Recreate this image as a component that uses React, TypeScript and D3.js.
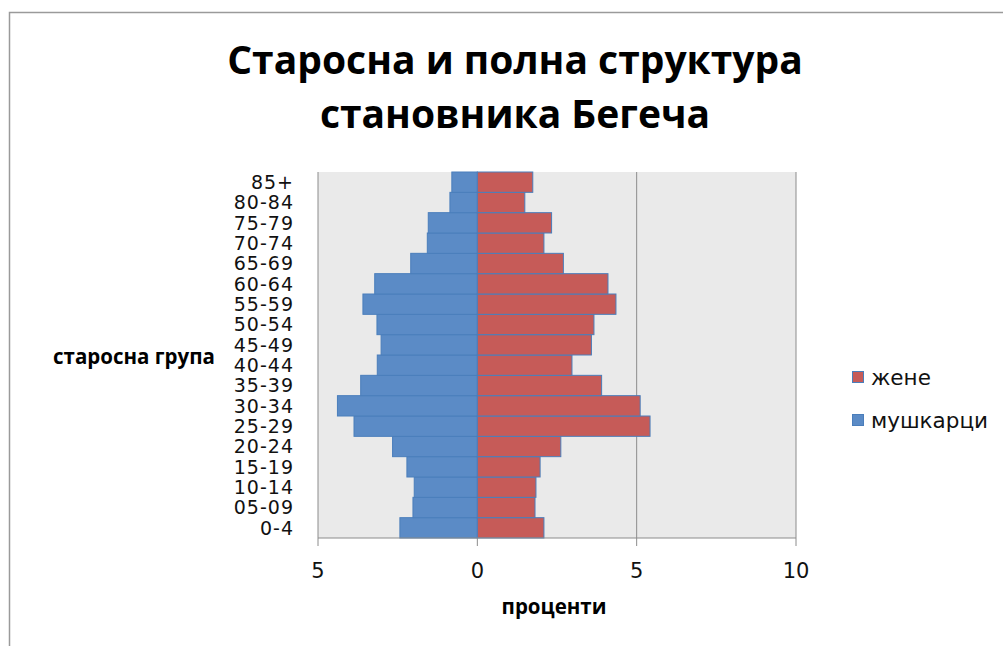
import * as d3 from 'd3'

const ageGroups = ['0-4', '05-09', '10-14', '15-19', '20-24', '25-29', '30-34', '35-39', '40-44', '45-49', '50-54', '55-59', '60-64', '65-69', '70-74', '75-79', '80-84', '85+']
// percent per age group (same order as ageGroups)
const men = [2.43, 2.02, 1.98, 2.21, 2.66, 3.87, 4.39, 3.66, 3.14, 3.02, 3.15, 3.59, 3.22, 2.09, 1.57, 1.54, 0.86, 0.8]
const women = [2.09, 1.81, 1.84, 1.97, 2.62, 5.42, 5.11, 3.9, 2.97, 3.58, 3.66, 4.35, 4.1, 2.7, 2.09, 2.33, 1.49, 1.74]
const xTicks = [-5, 0, 5, 10]
const titleLines = ['Старосна и полна структура', 'становника Бегеча']
const seriesNames = ['жене', 'мушкарци']

const W = 1003
const H = 646
const plot = { left: 318, right: 796, top: 172, bottom: 538 }
const blue = '#5b8bc6'
const red = '#c65b58'
const edge = '#4a7ebb'
const labelFont = '"DejaVu Sans", sans-serif'
const boldFont = '"Open Sans", Lato, sans-serif'

export default function App() {
  const x = d3.scaleLinear().domain([-5, 10]).range([plot.left, plot.right])
  // top band = last age group
  const y = d3.scaleBand().domain([...ageGroups].reverse()).range([plot.top, plot.bottom]).padding(0)
  const bw = y.bandwidth()

  return (
    <svg width={W} height={H} style={{ position: 'absolute', left: 0, top: 0, background: '#fff' }}>
      {/* outer frame */}
      <path d={`M9.5,${H} V12.5 H${W}`} fill="none" stroke="#9a9a9a" strokeWidth={1.5} />

      {titleLines.map((t, i) => (
        <text key={t} x={515} y={74 + i * 54} textAnchor="middle" fontFamily={boldFont} fontWeight="bold" fontSize={39} fill="#000">{t}</text>
      ))}

      <rect x={plot.left} y={plot.top} width={plot.right - plot.left} height={plot.bottom - plot.top} fill="#eaeaea" />
      {xTicks.filter(t => t !== 0).map(t => (
        <line key={t} x1={x(t)} x2={x(t)} y1={plot.top} y2={plot.bottom} stroke="#8c8c8c" strokeWidth={1} />
      ))}

      {ageGroups.map((g, i) => (
        <g key={g}>
          <rect x={x(-men[i])} y={y(g)} width={x(0) - x(-men[i])} height={bw} fill={blue} stroke={edge} strokeWidth={1} />
          <rect x={x(0)} y={y(g)} width={x(women[i]) - x(0)} height={bw} fill={red} stroke={edge} strokeWidth={1} />
          <text x={294} y={(y(g) as number) + bw / 2} dy="0.36em" textAnchor="end" fontFamily={labelFont} fontSize={19} letterSpacing={1} fill="#111">{g}</text>
        </g>
      ))}

      {/* bottom axis */}
      <line x1={plot.left} x2={plot.right} y1={plot.bottom} y2={plot.bottom} stroke="#8c8c8c" />
      {xTicks.map(t => (
        <g key={t}>
          <line x1={x(t)} x2={x(t)} y1={plot.bottom} y2={plot.bottom + 8} stroke="#8c8c8c" />
          <text x={x(t)} y={570} dy="0.36em" textAnchor="middle" fontFamily={labelFont} fontSize={21} fill="#111">{Math.abs(t)}</text>
        </g>
      ))}

      <text x={554} y={607} dy="0.36em" textAnchor="middle" fontFamily={boldFont} fontWeight="bold" fontSize={20.5} fill="#000">проценти</text>
      <text x={134} y={357} dy="0.36em" textAnchor="middle" fontFamily={boldFont} fontWeight="bold" fontSize={20.5} fill="#000">старосна група</text>

      {seriesNames.map((s, i) => (
        <g key={s}>
          <rect x={852.5} y={371.5 + i * 43} width={11} height={11} fill={i === 0 ? red : blue} stroke={edge} strokeWidth={1} />
          <text x={871} y={377 + i * 43} dy="0.36em" fontFamily={labelFont} fontSize={21.5} fill="#111">{s}</text>
        </g>
      ))}
    </svg>
  )
}
